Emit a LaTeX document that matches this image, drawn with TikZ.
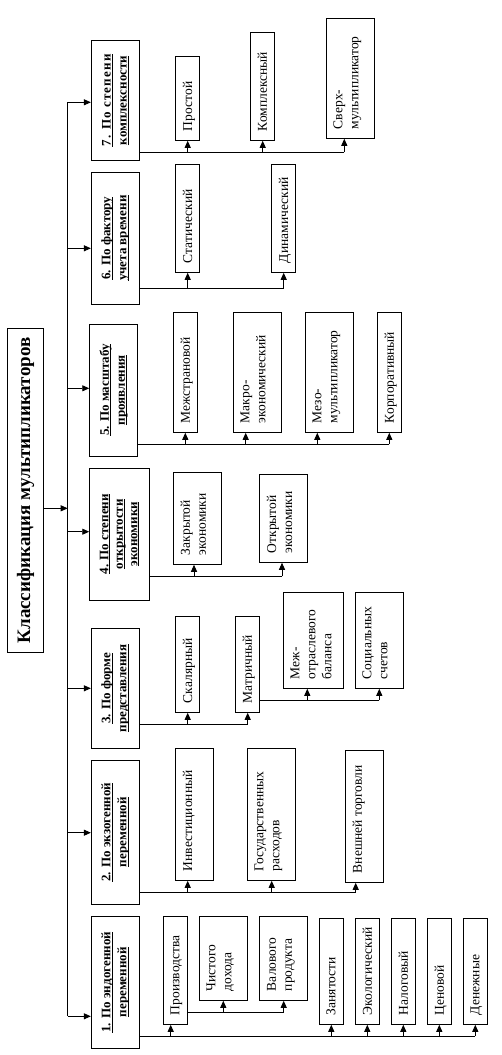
\documentclass[tikz,border=0pt]{standalone}
\usepackage{fontspec}
\setmainfont{Liberation Serif}
\usetikzlibrary{arrows.meta}
\newcommand\myul[1]{\setbox0\hbox{#1}\rlap{\rule[-2pt]{\wd0}{0.8pt}}\box0}
\tikzset{
  bx/.style={draw, line width=0.9pt, inner sep=0pt, fill=white},
  subtxt/.style={rotate=90, anchor=north west, inner sep=0pt, align=left, font=\fontsize{13.5}{16}\selectfont},
  headtxt/.style={rotate=90, inner sep=0pt, align=center, font=\fontsize{13}{16}\selectfont\bfseries},
  ln/.style={line width=0.9pt},
  arr/.style={ln, -{Triangle[length=7pt,width=6pt]}},
}
\newcommand\mkbox[5]{\node[bx, minimum width={#4-#2}, minimum height={#5-#3}] (#1) at ({(#2+#4)/2},{(#3+#5)/2}) {};}
\newcommand\mksub[6]{\mkbox{#1}{#2}{#3}{#4}{#5}\node[subtxt] (#1t) at ([xshift=7.5pt,yshift=9.5pt]#1.south west) {#6};}
\newcommand\mkhead[6]{\mkbox{#1}{#2}{#3}{#4}{#5}\node[headtxt] (#1t) at (#1.center) {#6};}
\newcommand\up[4]{\coordinate (#1) at (#2,#3); \draw[arr] (#1) -- (#1|-#4.south);}
\begin{document}
\begin{tikzpicture}[x=1pt,y=-1pt]
\fill[white] (0,0) rectangle (502,1055);
\useasboundingbox (0,0) rectangle (502,1055);

% title
\mkbox{title}{7.7}{328.7}{43.3}{652.3}
\node[rotate=90, inner sep=0pt, font=\fontsize{19}{22}\selectfont\bfseries] (titlet) at (title.center) {Классификация мультипликаторов};

% headings
\mkhead{h7}{91.3}{40.7}{139.3}{160.3}{\myul{\addfontfeature{LetterSpace=9}7. По степени}\\\myul{комплексности}}
\mkhead{h6}{91.3}{172.3}{139.3}{304}{\myul{6. По фактору}\\\myul{учета времени}}
\mkhead{h5}{89.7}{324.3}{137.3}{456}{\myul{5. По масштабу}\\\myul{проявления}}
\mkbox{h4}{89.7}{468.3}{149.3}{600}
\node[headtxt, font=\fontsize{13}{14.5}\selectfont\bfseries] (h4t) at (h4.center) {\myul{4. По степени}\\\myul{открытости}\\\myul{экономики}};
\mkhead{h3}{91.3}{628.3}{139.3}{748.3}{\myul{3. По форме}\\\myul{представления}}
\mkhead{h2}{91.3}{760.3}{139.3}{904}{\myul{2. По экзогенной}\\\myul{переменной}}
\mkhead{h1}{91.3}{916.3}{139.3}{1048.3}{\myul{1. По эндогенной}\\\myul{переменной}}

% spine
\coordinate (a7) at (67.7,102.3);
\coordinate (a6) at (67.7,248.3);
\coordinate (a5) at (67.7,388.3);
\coordinate (a4) at (67.7,531.7);
\coordinate (a3) at (67.7,688.3);
\coordinate (a2) at (67.7,832.7);
\coordinate (a1) at (67.7,1016.3);
\coordinate (at) at (67.7,508.3);
\draw[ln] (a7) -- (a1);
\foreach \i in {1,...,7} {\draw[arr] (a\i) -- (a\i-|h\i.west);}
\draw[arr] (at-|title.east) -- (at);

% group 7
\mksub{s71}{175.7}{56.3}{199.3}{140.3}{Простой}
\mksub{s72}{250.3}{32.3}{274.3}{140.3}{Комплексный}
\mksub{s73}{326.3}{18.3}{374.3}{138.3}{Сверх-\\мультипликатор}
\up{c71}{187.7}{152.3}{s71}
\up{c72}{262.7}{152.3}{s72}
\up{c73}{344.3}{152.3}{s73}
\draw[ln] (c71-|h7.east) -- (c73);

% group 6
\mksub{s61}{175.7}{164.3}{199.3}{272.3}{Статический}
\mksub{s62}{271.7}{164.3}{295.3}{272.3}{Динамический}
\up{c61}{187.7}{288.3}{s61}
\up{c62}{283.7}{288.3}{s62}
\draw[ln] (c61-|h6.east) -- (c62);

% group 5
\mksub{s51}{173.3}{312.3}{197.3}{432.3}{Межстрановой}
\mksub{s52}{233.3}{312.3}{281.3}{432.3}{Макро-\\экономический}
\mksub{s53}{305.3}{312.3}{353.3}{432.3}{Мезо-\\мультипликатор}
\mksub{s54}{377.3}{312.3}{401.3}{432.3}{Корпоративный}
\up{c51}{185.3}{444.3}{s51}
\up{c52}{245.7}{444.3}{s52}
\up{c53}{317.3}{444.3}{s53}
\up{c54}{389.3}{444.3}{s54}
\draw[ln] (c51-|h5.east) -- (c54);

% group 4
\mksub{s41}{173.3}{472.7}{221.3}{564.3}{Закрытой\\экономики}
\mksub{s42}{259.7}{474.3}{307}{562.3}{Открытой\\экономики}
\up{c41}{194}{576.3}{s41}
\up{c42}{282}{576.3}{s42}
\draw[ln] (c41-|h4.east) -- (c42);

% group 3
\mksub{s31}{175.7}{616.3}{199.3}{712.3}{Скалярный}
\mksub{s32}{235.3}{616.3}{259.3}{712.3}{Матричный}
\mksub{s33}{283.3}{592.3}{343.3}{688.3}{Меж-\\отраслевого\\баланса}
\mksub{s34}{355.3}{592.3}{403.3}{688.3}{Социальных\\счетов}
\up{c31}{187.7}{724.3}{s31}
\up{c32}{247.7}{724.3}{s32}
\draw[ln] (c31-|h3.east) -- (c32);
\up{c33}{307.3}{700.3}{s33}
\up{c34}{379.3}{700.3}{s34}
\draw[ln] (c33-|s32.east) -- (c34);

% group 2
\mksub{s21}{175.7}{748.3}{213.3}{880.3}{Инвестиционный}
\mksub{s22}{247.3}{748.3}{295.3}{880.3}{Государственных\\расходов}
\mksub{s23}{345.3}{750.3}{383.3}{882.3}{Внешней торговли}
\up{c21}{187.7}{892.3}{s21}
\up{c22}{271.7}{892.3}{s22}
\up{c23}{355.7}{892.3}{s23}
\draw[ln] (c21-|h2.east) -- (c23);

% group 1
\mksub{s11}{163.3}{916.3}{187.3}{1024.3}{Производства}
\mksub{s12}{199.3}{916.3}{247.3}{1000.3}{Чистого\\дохода}
\mksub{s13}{259.7}{916.3}{307.3}{1000.3}{Валового\\продукта}
\mksub{s14}{319.3}{918.3}{343.3}{1024.3}{Занятости}
\mksub{s15}{355.3}{918.3}{379.3}{1024.3}{Экологический}
\mksub{s16}{391.3}{918.3}{415.3}{1024.3}{Налоговый}
\mksub{s17}{427.3}{918.3}{451.3}{1024.3}{Ценовой}
\mksub{s18}{463.3}{918.3}{487.3}{1024.3}{Денежные}
\up{c11}{170.7}{1036.3}{s11}
\up{c14}{331.3}{1036.3}{s14}
\up{c15}{367.3}{1036.3}{s15}
\up{c16}{403.3}{1036.3}{s16}
\up{c17}{439.3}{1036.3}{s17}
\up{c18}{475.3}{1036.3}{s18}
\draw[ln] (c11-|h1.east) -- (c18);
\up{c12}{223.3}{1012.3}{s12}
\up{c13}{283.7}{1012.3}{s13}
\draw[ln] (c12-|s11.east) -- (c13);
\end{tikzpicture}
\end{document}
